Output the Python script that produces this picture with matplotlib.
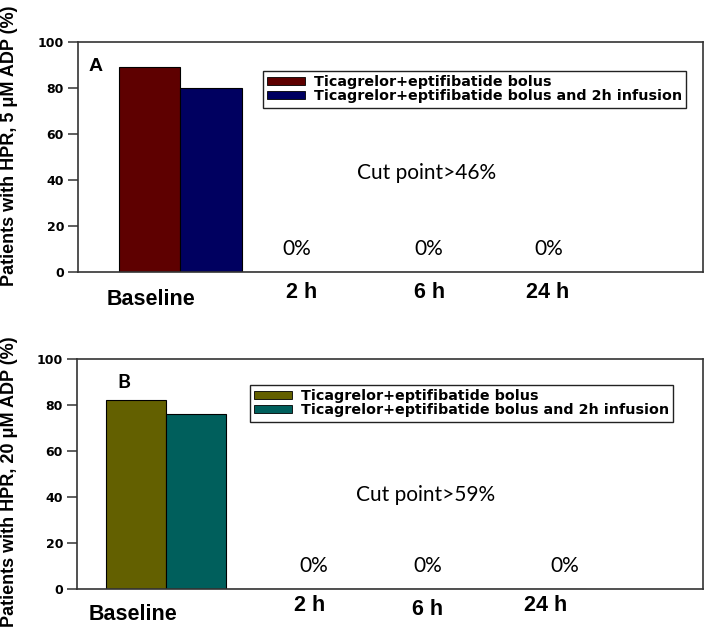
import numpy as np
import matplotlib
matplotlib.use("Agg")
from matplotlib import pyplot as plt
from matplotlib.patches import Patch

# data
timepoints = ["Baseline", "2 h", "6 h", "24 h"]
bolus_5 = [89, 0, 0, 0]
infusion_5 = [80, 0, 0, 0]
bolus_20 = [82, 0, 0, 0]
infusion_20 = [76, 0, 0, 0]
series_names = ["Ticagrelor+eptifibatide bolus",
                "Ticagrelor+eptifibatide bolus and 2h infusion"]
cut_a = "Cut point>46%"
cut_b = "Cut point>59%"

plt.rcParams['font.family'] = ['Liberation Sans', 'DejaVu Sans']

fig = plt.figure(figsize=(7.09, 6.34), dpi=100)
W, H = 709, 634


def panel(box, b1, b2, cols, xlim, letter, letter_xy, letter_font,
          lab_x, lab_y, zero_x, cut_txt, cut_y, leg_xy, ylab, ylab_y):
    l, t, r, b = box
    ax = fig.add_axes([l / W, 1 - b / H, (r - l) / W, (b - t) / H])
    x = np.arange(len(timepoints))
    w = 0.5
    ax.bar(x - w / 2, b1, w, color=cols[0], edgecolor='black', linewidth=0.8)
    ax.bar(x + w / 2, b2, w, color=cols[1], edgecolor='black', linewidth=0.8)
    ax.set_xlim(*xlim)
    ax.set_ylim(0, 100)
    ax.set_yticks([0, 20, 40, 60, 80, 100])
    ax.set_xticks([])
    for s in ax.spines.values():
        s.set_color('#333333')
        s.set_linewidth(1.2)
    ax.tick_params(axis='y', direction='out', length=7, width=1.1,
                   labelsize=9, color='#333333', pad=3)
    for lbl in ax.get_yticklabels():
        lbl.set_fontweight('bold')
        lbl.set_family('DejaVu Sans')

    # time labels below the axis
    for xi, name, ly in zip(lab_x, timepoints, lab_y):
        ax.text(xi, ly, name, ha='center', va='center', fontsize=15.5,
                fontweight='bold', transform=ax.get_xaxis_transform(),
                clip_on=False)
    # 0% labels
    for xi, v in zip(zero_x, b1[1:]):
        ax.text(xi, 0.1, f"{v}%", ha='center', va='center', fontsize=15,
                family='Lato', transform=ax.get_xaxis_transform())
    ax.text(0.557, cut_y, cut_txt, ha='center',
            va='center', fontsize=15, family='Lato', transform=ax.transAxes)
    ax.text(letter_xy[0], letter_xy[1], letter, ha='center', va='center',
            fontsize=14, fontweight='bold', family=letter_font,
            transform=ax.transAxes)

    handles = [Patch(facecolor=c, edgecolor='black', linewidth=0.6) for c in cols]
    fig.legend(handles, series_names, loc='upper left',
               bbox_to_anchor=(leg_xy[0] / W, 1 - leg_xy[1] / H),
               borderaxespad=0, fancybox=False, edgecolor='#222222',
               framealpha=1,
               prop={'weight': 'bold', 'size': 10.3, 'family': 'DejaVu Sans'},
               handlelength=2.65, handleheight=0.5, handletextpad=0.6,
               labelspacing=0.0, borderpad=0.3)
    fig.text(10 / W, 1 - ylab_y / H, ylab, rotation=90, ha='center',
             va='center', fontsize=13, fontweight='bold')
    return ax


panel((78, 42, 703, 272), bolus_5, infusion_5, ['#5e0000', '#000060'],
      (-0.83, 4.25), 'A', (0.028, 0.895), 'Liberation Sans',
      [-0.24, 0.99, 2.03, 2.99], [-0.12, -0.09, -0.09, -0.09],
      [0.95, 2.02, 3.0], cut_a, 0.43, (263, 71),
      "Patients with HPR, 5 μM ADP (%)", 146)

panel((77, 359, 703, 589), bolus_20, infusion_20, ['#636000', '#005f5c'],
      (-0.74, 4.47), 'B', (0.075, 0.9), 'Lato',
      [-0.27, 1.2, 2.18, 3.16], [-0.11, -0.07, -0.09, -0.07],
      [1.23, 2.18, 3.32], cut_b, 0.41, (250, 385),
      "Patients with HPR, 20 μM ADP (%)", 482)

fig.savefig("out.png", dpi=100)
